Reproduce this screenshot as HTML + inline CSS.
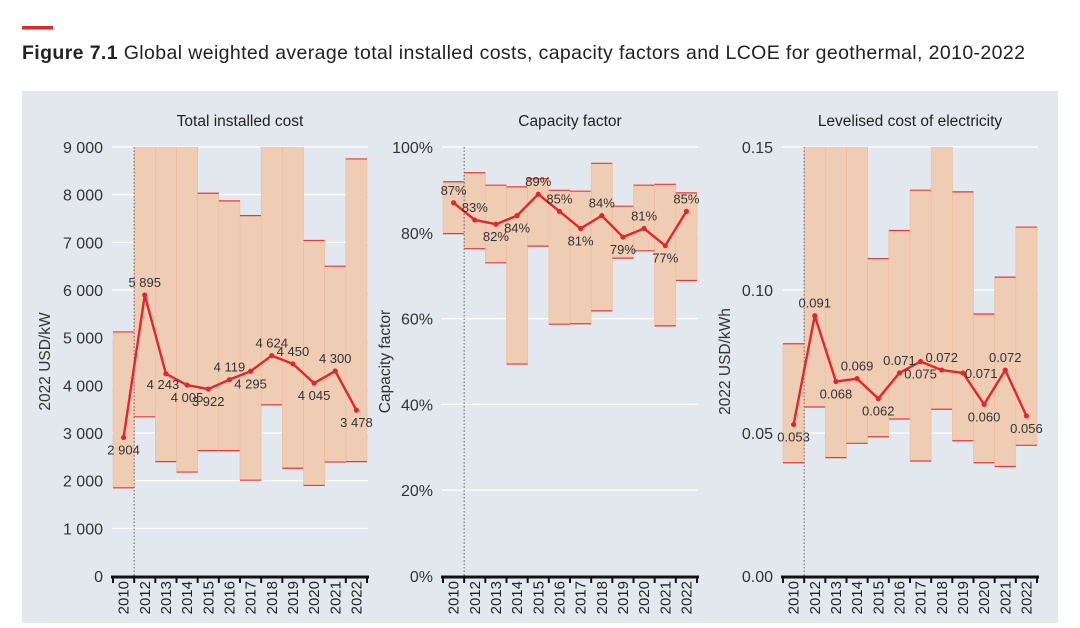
<!DOCTYPE html>
<html><head><meta charset="utf-8">
<style>
body{margin:0;width:1080px;height:623px;overflow:hidden;background:#fff;font-family:"Liberation Sans",sans-serif;}
#wrap{position:relative;width:1080px;height:623px;}
</style></head>
<body>
<div id="wrap">
<svg id="chart" width="1080" height="623" xmlns="http://www.w3.org/2000/svg">
  <rect x="22" y="26" width="31" height="3.5" fill="#e3262a"/>
  <text x="22" y="59" font-size="19.5" fill="#222" textLength="1003" lengthAdjust="spacing"><tspan font-weight="bold">Figure 7.1</tspan>  Global weighted average total installed costs, capacity factors and LCOE for geothermal, 2010-2022</text>
  <rect x="22" y="91" width="1036" height="532" fill="#e2e8ed"/>
  <g id="panels"></g>
</svg>
</div>
<script>
const years = ["2010","2012","2013","2014","2015","2016","2017","2018","2019","2020","2021","2022"];

const costAvg = [2904,5895,4243,4005,3922,4119,4295,4624,4450,4045,4300,3478];
const costHigh = [5120,9500,9500,9500,8030,7870,7560,9500,9500,7040,6500,8750];
const costLow = [1850,3340,2400,2180,2630,2630,2010,3590,2260,1900,2390,2400];
const costTicks = [0,1000,2000,3000,4000,5000,6000,7000,8000,9000];
const costTickLabels = ["0","1 000","2 000","3 000","4 000","5 000","6 000","7 000","8 000","9 000"];
const costLabels = ["2 904","5 895","4 243","4 005","3 922","4 119","4 295","4 624","4 450","4 045","4 300","3 478"];
const costLabelPos = ["b","a","bl","b","b","a","b","a","a","b","a","b"];

const cfAvg = [0.87,0.83,0.82,0.84,0.89,0.85,0.81,0.84,0.79,0.81,0.77,0.85];
const cfHigh = [0.919,0.940,0.911,0.907,0.926,0.899,0.897,0.962,0.862,0.911,0.913,0.893];
const cfLow = [0.798,0.763,0.730,0.494,0.769,0.587,0.588,0.618,0.741,0.758,0.583,0.689];
const cfTicks = [0,0.2,0.4,0.6,0.8,1.0];
const cfTickLabels = ["0%","20%","40%","60%","80%","100%"];
const cfLabels = ["87%","83%","82%","84%","89%","85%","81%","84%","79%","81%","77%","85%"];
const cfLabelPos = ["a","a","b","b","a","a","b","a","b","a","b","a"];

const lcoeAvg = [0.053,0.091,0.068,0.069,0.062,0.071,0.075,0.072,0.071,0.060,0.072,0.056];
const lcoeHigh = [0.0812,0.16,0.16,0.16,0.111,0.1208,0.1349,0.16,0.1343,0.0916,0.1045,0.122];
const lcoeLow = [0.0396,0.0591,0.0414,0.0464,0.0487,0.0549,0.0402,0.0583,0.0473,0.0396,0.0383,0.0457];
const lcoeTicks = [0,0.05,0.10,0.15];
const lcoeTickLabels = ["0.00","0.05","0.10","0.15"];
const lcoeLabels = ["0.053","0.091","0.068","0.069","0.062","0.071","0.075","0.072","0.071","0.060","0.072","0.056"];
const lcoeLabelPos = ["b","a","b","a","b","a","b","a","r","b","a","b"];

const NS = "http://www.w3.org/2000/svg";
const root = document.getElementById("panels");
function mk(tag, attrs, parent){const e=document.createElementNS(NS,tag);for(const k in attrs)e.setAttribute(k,attrs[k]);(parent||root).appendChild(e);return e;}

function panel(cfg){
  const g = mk("g",{});
  
  
  const x0=cfg.x0, x1=cfg.x0+254, yTop=147, yBot=576;
  const n=years.length, bw=(x1-x0)/n;
  const y=v=>yBot-(v/cfg.max)*(yBot-yTop);
  const xc=i=>x0+bw*(i+0.5);
  const t=mk("text",{x:(x0+x1)/2,y:126,"text-anchor":"middle","font-size":"15.5",fill:"#222"},g);
  t.textContent=cfg.title;
  
  
  cfg.ticks.forEach((v,i)=>{
    const gl=mk("line",{x1:x0-1,x2:x1+1,y1:y(v),y2:y(v),stroke:"#fff","stroke-width":"1.2"},g);
    
    
    const tl=mk("text",{x:x0-10,y:y(v)+6,"text-anchor":"end","font-size":"16",fill:"#333"},g);
    tl.textContent=cfg.tickLabels[i];
    
    
  });
  const yt=mk("text",{x:0,y:0,"text-anchor":"middle","font-size":"15.5",fill:"#333",transform:`translate(${cfg.yTitleX},${(yTop+yBot)/2}) rotate(-90)`},g);
  yt.textContent=cfg.yTitle;
  
  
  const clipId="clip"+cfg.name;
  const cp=mk("clipPath",{id:clipId},g);
  mk("rect",{x:x0-2,y:yTop,width:x1-x0+4,height:yBot-yTop},cp);
  const bars=mk("g",{"clip-path":`url(#${clipId})`},g);
  years.forEach((yr,i)=>{
    const lx=x0+bw*i;
    const r=mk("rect",{x:lx,y:y(cfg.high[i]),width:bw,height:y(cfg.low[i])-y(cfg.high[i]),fill:"#efcdb4",stroke:"#f3b899","stroke-width":"0.6"},bars);
    
    
    [cfg.high[i],cfg.low[i]].forEach(v=>{
      const c=mk("line",{x1:lx,x2:lx+bw,y1:y(v),y2:y(v),stroke:"#e8383a","stroke-width":"1.2"},bars);
      
      
    });
  });
  const d=mk("line",{x1:x0+bw,x2:x0+bw,y1:yTop,y2:yBot,stroke:"#666","stroke-width":"1","stroke-dasharray":"1.5,2"},g);
  
  
  const pts=cfg.avg.map((v,i)=>`${xc(i)},${y(v)}`).join(" ");
  const pl=mk("polyline",{points:pts,fill:"none",stroke:"#e3262a","stroke-width":"2.4","stroke-linejoin":"round"},g);
  
  
  cfg.avg.forEach((v,i)=>{
    const c=mk("circle",{cx:xc(i),cy:y(v),r:2.6,fill:"#e3262a"},g);
    
    
    const p=cfg.pos[i];
    let lx=xc(i), ly=y(v)-8, anc="middle";
    if(p==="b"){ly=y(v)+17;}
    if(p==="bl"){ly=y(v)+15;lx=xc(i)-3;}
    if(p==="r"){ly=y(v)+5;lx=xc(i)+2;anc="start";}
    const lt=mk("text",{x:lx,y:ly,"text-anchor":anc,"font-size":"13",fill:"#333"},g);
    lt.textContent=cfg.labels[i];
    
    
  });
  const ax=mk("line",{x1:x0-2,x2:x1+2,y1:yBot+1,y2:yBot+1,stroke:"#111","stroke-width":"3"},g);
  
  
  for(let i=0;i<=n;i++){
    const tk=mk("line",{x1:x0+bw*i,x2:x0+bw*i,y1:yBot,y2:yBot+7,stroke:"#111","stroke-width":"2"},g);
    
    
  }
  years.forEach((yr,i)=>{
    const xt=mk("text",{x:0,y:0,"text-anchor":"end","font-size":"15","font-weight":"500",fill:"#222",transform:`translate(${xc(i)+5},${yBot+5}) rotate(-90)`},g);
    xt.textContent=yr;
    
    
  });
}
panel({name:"panel-installed-cost",x0:113,max:9000,title:"Total installed cost",yTitle:"2022 USD/kW",yTitleX:50,ticks:costTicks,tickLabels:costTickLabels,avg:costAvg,high:costHigh,low:costLow,labels:costLabels,pos:costLabelPos});
panel({name:"panel-capacity-factor",x0:443,max:1.0,title:"Capacity factor",yTitle:"Capacity factor",yTitleX:390,ticks:cfTicks,tickLabels:cfTickLabels,avg:cfAvg,high:cfHigh,low:cfLow,labels:cfLabels,pos:cfLabelPos});
panel({name:"panel-lcoe",x0:783,max:0.15,title:"Levelised cost of electricity",yTitle:"2022 USD/kWh",yTitleX:730,ticks:lcoeTicks,tickLabels:lcoeTickLabels,avg:lcoeAvg,high:lcoeHigh,low:lcoeLow,labels:lcoeLabels,pos:lcoeLabelPos});
</script>
</body></html>
